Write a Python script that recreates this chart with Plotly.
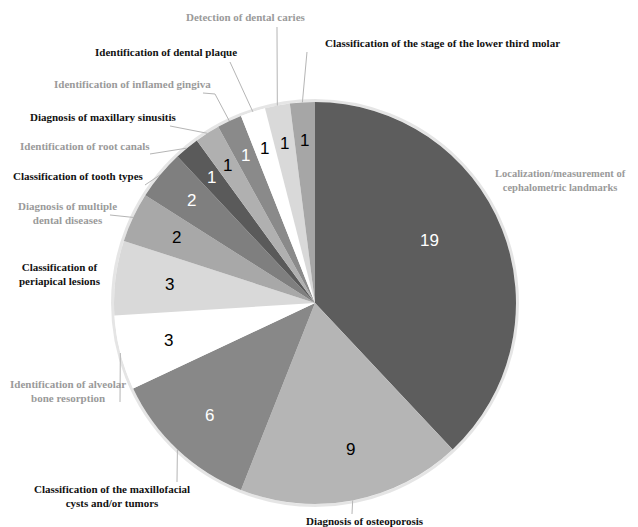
import math
import plotly.graph_objects as go

# ---- data ----
labels = [
    "Localization/measurement of<br>cephalometric landmarks",
    "Diagnosis of osteoporosis",
    "Classification of the maxillofacial<br>cysts and/or tumors",
    "Identification of alveolar<br>bone resorption",
    "Classification of<br>periapical lesions",
    "Diagnosis of multiple<br>dental diseases",
    "Classification of tooth types",
    "Identification of root canals",
    "Diagnosis of maxillary sinusitis",
    "Identification of inflamed gingiva",
    "Identification of dental plaque",
    "Detection of dental caries",
    "Classification of the stage of the lower third molar",
]
values = [19, 9, 6, 3, 3, 2, 2, 1, 1, 1, 1, 1, 1]

# ---- style ----
slice_colors = ["#5d5d5d", "#b5b5b5", "#888888", "#ffffff", "#d9d9d9", "#a8a8a8",
                "#7f7f7f", "#5a5a5a", "#b0b0b0", "#8a8a8a", "#ffffff", "#d9d9d9", "#a6a6a6"]
num_colors = ["white", "black", "white", "black", "black", "black",
              "white", "white", "black", "white", "black", "black", "black"]
num_radius = [0.65, 0.75, 0.77, 0.75, 0.73, 0.76, 0.8, 0.81, 0.81, 0.81, 0.81, 0.81, 0.81]
num_angle_shift = [-7, -3, 0, 0, 0, 0, 0, 0, 0, 0, 0, 0, 0]  # degrees
label_colors = ["#9a9a9a", "#111111", "#111111", "#9a9a9a", "#111111", "#9a9a9a",
                "#111111", "#9a9a9a", "#111111", "#9a9a9a", "#111111", "#9a9a9a", "#111111"]
label_sizes = [10.5, 11, 11, 11, 11, 11, 11, 11, 11, 11, 11, 11, 11]
# label centres (pixels, reference frame) and leader-line paths beyond the pie edge
label_pos = [(560, 180), (365, 521), (112, 496), (68, 391), (60, 274), (67, 213),
             (78, 176), (85, 146), (103, 117), (132, 84), (166, 52), (246, 17), (442, 43)]
leader = [None, [(352, 514)], [(177, 482)], [(120, 402)], None, [(110, 215)],
          [(145, 185)], [(150, 154)], [(170, 126)], [(215, 94), (203, 93)],
          [(230, 62)], [(277, 27)], [(307, 52)]]

OFF = 8                      # page body margin
W, H = 638 - OFF, 527 - OFF  # figure size
CX, CY, R = 315, 303, 201


def px(x):
    return (x - OFF) / W


def py(y):
    return 1 - (y - OFF) / H


fig = go.Figure(go.Pie(
    labels=labels, values=values, sort=False, direction="clockwise", rotation=0,
    marker=dict(colors=slice_colors, line=dict(width=0)),
    textinfo="none",
    domain=dict(x=[px(CX - R), px(CX + R)], y=[py(CY + R), py(CY - R)]),
    showlegend=False, hoverinfo="label+value",
))

shapes = [dict(type="circle", xref="paper", yref="paper",
               x0=px(CX - R - 1.5), x1=px(CX + R + 1.5), y0=py(CY + R + 1.5), y1=py(CY - R - 1.5),
               line=dict(color="rgba(0,0,0,0.10)", width=3), layer="below")]
annotations = []
total = sum(values)
cum = 0
for i, v in enumerate(values):
    mid = (cum + v / 2) / total * 2 * math.pi
    cum += v
    ex = CX + R * math.sin(mid)
    ey = CY - R * math.cos(mid)
    if leader[i]:
        pts = [(ex, ey)] + leader[i]
        path = "M " + " L ".join(f"{px(x):.5f},{py(y):.5f}" for x, y in pts)
        shapes.append(dict(type="path", xref="paper", yref="paper", path=path,
                           line=dict(color="#b5b5b5", width=1)))
    # value label inside slice
    nr = R * num_radius[i]
    na = mid + math.radians(num_angle_shift[i])
    annotations.append(dict(x=px(CX + nr * math.sin(na)), y=py(CY - nr * math.cos(na)),
                            xref="paper", yref="paper", text=str(v), showarrow=False,
                            xanchor="center", yanchor="middle",
                            font=dict(family="Liberation Sans, Arial, sans-serif", size=17,
                                      color=num_colors[i])))
    # category label
    lx, ly = label_pos[i]
    annotations.append(dict(x=px(lx), y=py(ly), xref="paper", yref="paper", text=f"<b>{labels[i]}</b>",
                            showarrow=False, xanchor="center", yanchor="middle", align="center",
                            font=dict(family="Liberation Serif, Times New Roman, serif",
                                      size=label_sizes[i], color=label_colors[i])))

fig.update_layout(width=W, height=H, margin=dict(l=0, r=0, t=0, b=0),
                  paper_bgcolor="white", plot_bgcolor="white",
                  shapes=shapes, annotations=annotations)
fig.write_html("out.html")
